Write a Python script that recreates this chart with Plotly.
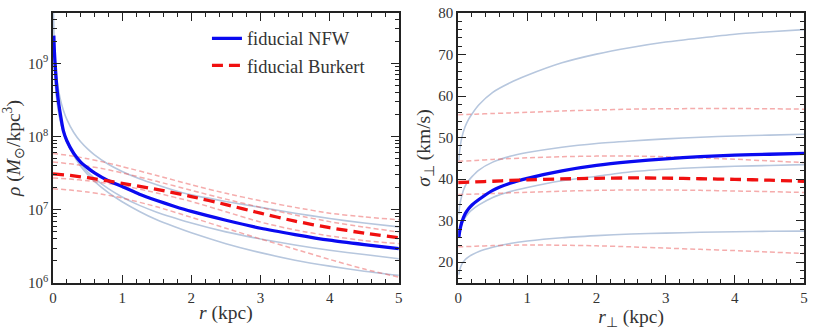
import plotly.graph_objects as go
from plotly.subplots import make_subplots

# ---------------- data ----------------
# left panel: density profiles rho(r) [M_sun/kpc^3]
r_nfw = [0.012, 0.02, 0.035, 0.05, 0.07, 0.1, 0.15, 0.2, 0.3, 0.4, 0.5, 0.6, 0.8,
         1.0, 1.25, 1.5, 1.75, 2.0, 2.5, 3.0, 3.5, 4.0, 4.5, 5.0]
rho_nfw_fid = [2.4e9, 1.45e9, 8.5e8, 5.4e8, 3.5e8, 2.2e8, 1.2e8, 8.8e7, 5.9e7, 4.5e7, 3.75e7,
               3.2e7, 2.5e7, 2.08e7, 1.63e7, 1.34e7, 1.12e7, 9.5e6, 7.2e6, 5.6e6, 4.6e6,
               3.85e6, 3.35e6, 2.95e6]
r_nfw_up = [0.007, 0.01, 0.02, 0.04, 0.07, 0.1, 0.15, 0.2, 0.3, 0.4, 0.5, 0.6, 0.8,
            1.0, 1.25, 1.5, 1.75, 2.0, 2.5, 3.0, 3.5, 4.0, 4.5, 5.0]
rho_nfw_up = [5.0e9, 3.5e9, 1.75e9, 8.7e8, 5.0e8, 3.45e8, 2.3e8, 1.72e8, 1.14e8, 8.5e7, 6.8e7,
              5.65e7, 4.2e7, 3.35e7, 2.66e7, 2.2e7, 1.85e7, 1.6e7, 1.3e7, 1.08e7, 9.0e6,
              7.6e6, 6.6e6, 5.85e6]
rho_nfw_lo1 = [1.45e9, 8.7e8, 5.0e8, 3.5e8, 2.5e8, 1.72e8, 1.14e8, 8.5e7, 5.6e7, 4.15e7, 3.3e7,
               2.7e7, 1.95e7, 1.5e7, 1.15e7, 9.3e6, 7.8e6, 6.6e6, 5.0e6, 4.0e6, 3.3e6,
               2.8e6, 2.45e6, 2.15e6]
rho_nfw_lo2 = [1.6e9, 9.5e8, 5.4e8, 3.75e8, 2.65e8, 1.8e8, 1.18e8, 8.6e7, 5.5e7, 3.95e7, 3.05e7,
               2.45e7, 1.72e7, 1.29e7, 9.5e6, 7.3e6, 5.9e6, 4.85e6, 3.45e6, 2.6e6, 2.05e6,
               1.7e6, 1.45e6, 1.27e6]

r_bur = [0, 0.25, 0.5, 0.75, 1, 1.5, 2, 2.5, 3, 3.5, 4, 4.5, 5]
rho_bur_fid = [3.1e7, 2.95e7, 2.75e7, 2.52e7, 2.3e7, 1.9e7, 1.52e7, 1.18e7, 9.0e6, 7.0e6,
               5.7e6, 4.8e6, 4.15e6]
rho_bur_a = [5.9e7, 5.5e7, 5.0e7, 4.45e7, 3.9e7, 2.95e7, 2.2e7, 1.68e7, 1.33e7, 1.08e7,
             9.0e6, 8.0e6, 7.3e6]
rho_bur_b = [4.5e7, 4.25e7, 3.95e7, 3.6e7, 3.2e7, 2.45e7, 1.85e7, 1.4e7, 1.08e7, 8.5e6,
             6.9e6, 5.8e6, 4.97e6]
rho_bur_c = [2.73e7, 2.63e7, 2.5e7, 2.33e7, 2.15e7, 1.7e7, 1.3e7, 9.4e6, 6.8e6, 5.3e6,
             4.4e6, 3.8e6, 3.45e6]
rho_bur_d = [1.94e7, 1.86e7, 1.75e7, 1.61e7, 1.45e7, 1.1e7, 7.9e6, 5.6e6, 4.0e6, 2.9e6,
             2.1e6, 1.55e6, 1.2e6]

# right panel: projected velocity dispersion sigma_perp(r_perp) [km/s]
r_sig = [0.01, 0.02, 0.05, 0.1, 0.15, 0.2, 0.3, 0.5, 0.75, 1.0, 1.5, 2.0, 2.5, 3.0, 3.5,
         4.0, 4.5, 5.0]
sig_nfw_fid = [26.0, 27.3, 29.5, 31.6, 32.9, 33.8, 35.1, 37.3, 39.0, 40.2, 42.0, 43.3, 44.2,
               44.9, 45.4, 45.8, 46.0, 46.2]
sig_nfw_1 = [44.5, 46.5, 49.8, 52.6, 54.4, 55.7, 57.9, 60.9, 63.2, 65.0, 68.0, 70.1, 71.7,
             73.0, 74.0, 74.9, 75.5, 76.0]
sig_nfw_2 = [31.5, 33.3, 35.9, 38.3, 39.6, 40.6, 42.2, 44.1, 45.5, 46.4, 47.7, 48.6, 49.2,
             49.7, 50.1, 50.4, 50.6, 50.8]
sig_nfw_3 = [25.8, 27.0, 29.0, 30.7, 31.8, 32.6, 33.8, 35.6, 37.0, 38.0, 39.6, 40.7, 41.8,
             42.4, 42.8, 43.1, 43.3, 43.5]
sig_nfw_4 = [17.0, 18.0, 19.4, 20.6, 21.3, 21.8, 22.6, 23.6, 24.5, 25.1, 25.9, 26.4, 26.8,
             27.0, 27.2, 27.35, 27.45, 27.5]

sig_bur_fid = [39.2, 39.35, 39.5, 39.7, 39.85, 40.05, 40.2, 40.3, 40.25, 40.1, 39.95, 39.75, 39.5]
sig_bur_1 = [55.5, 55.65, 55.8, 55.95, 56.1, 56.4, 56.65, 56.85, 56.95, 57.0, 57.0, 56.95, 56.85]
sig_bur_2 = [44.3, 44.5, 44.75, 44.95, 45.15, 45.4, 45.55, 45.55, 45.4, 45.1, 44.8, 44.4, 44.0]
sig_bur_3 = [36.3, 36.4, 36.55, 36.7, 36.85, 37.1, 37.3, 37.4, 37.4, 37.3, 37.15, 37.0, 36.8]
sig_bur_4 = [23.7, 23.85, 24.0, 24.1, 24.15, 24.1, 23.95, 23.7, 23.4, 23.1, 22.8, 22.45, 22.1]

left_ytickvals = [1e6, 1e7, 1e8, 1e9]
left_yticktext = ["10<sup>6</sup>", "10<sup>7</sup>", "10<sup>8</sup>", "10<sup>9</sup>"]
legend_names = ["fiducial NFW", "fiducial Burkert"]

# ---------------- styling ----------------
FONT = "Liberation Serif"
BLUE = "#0a0af0"
RED = "#f01010"
LBLUE = "#b7c7de"
LRED = "rgba(235,90,90,0.5)"
TICKFONT = dict(family=FONT, size=15, color="#333")
TITLEFONT = dict(family=FONT, size=19.5, color="#333")

fig = make_subplots(rows=1, cols=2, horizontal_spacing=0.079)


def add(x, y, col, color, width, dash=None, name=None, show=False):
    fig.add_trace(go.Scatter(
        x=x, y=y, mode="lines", name=name, showlegend=show,
        line=dict(color=color, width=width, dash=dash, shape="spline", smoothing=0.6),
        hoverinfo="skip"), row=1, col=col)


# left panel
add(r_nfw_up, rho_nfw_up, 1, LBLUE, 1.6)
for ys in (rho_nfw_lo1, rho_nfw_lo2):
    add(r_nfw, ys, 1, LBLUE, 1.6)
for ys in (rho_bur_a, rho_bur_b, rho_bur_c, rho_bur_d):
    add(r_bur, ys, 1, LRED, 1.5, dash="5px,3px")
add(r_nfw, rho_nfw_fid, 1, BLUE, 3.3, name=legend_names[0], show=True)
add(r_bur, rho_bur_fid, 1, RED, 3.3, dash="11px,6px", name=legend_names[1], show=True)

# right panel
for ys in (sig_nfw_1, sig_nfw_2, sig_nfw_3, sig_nfw_4):
    add(r_sig, ys, 2, LBLUE, 1.6)
for ys in (sig_bur_1, sig_bur_2, sig_bur_3, sig_bur_4):
    add(r_bur, ys, 2, LRED, 1.5, dash="5px,3px")
add(r_sig, sig_nfw_fid, 2, BLUE, 3.3)
add(r_bur, sig_bur_fid, 2, RED, 3.3, dash="11px,6px")

minor_common = dict(ticks="inside", ticklen=4, tickwidth=1, tickcolor="#222", showgrid=False)
fig.update_xaxes(showline=True, linecolor="#222", linewidth=1.6, mirror="allticks",
                 ticks="inside", ticklen=8, tickwidth=1, tickcolor="#222",
                 showgrid=False, zeroline=False, tickfont=TICKFONT)
fig.update_yaxes(showline=True, linecolor="#222", linewidth=1.6, mirror="allticks",
                 ticks="inside", ticklen=8, tickwidth=1, tickcolor="#222",
                 showgrid=False, zeroline=False, tickfont=TICKFONT)

fig.update_xaxes(range=[0, 5], dtick=1, minor=dict(dtick=0.2, **minor_common),
                 title=dict(text="<i>r</i> (kpc)", font=TITLEFONT, standoff=1),
                 row=1, col=1)
fig.update_xaxes(range=[0, 5], dtick=1, minor=dict(dtick=0.2, **minor_common),
                 title=dict(text="<i>r</i><sub>⊥</sub> (kpc)", font=TITLEFONT, standoff=1),
                 row=1, col=2)
fig.update_yaxes(type="log", range=[6, 9.69], tickmode="array",
                 tickvals=left_ytickvals, ticktext=left_yticktext,
                 minor=dict(dtick="D1", **minor_common),
                 title=dict(text="<i>ρ</i> (<i>M</i><sub>⊙</sub>/kpc<sup>3</sup>)",
                            font=TITLEFONT, standoff=3),
                 row=1, col=1)
fig.update_yaxes(range=[15, 80], dtick=10, minor=dict(dtick=2, **minor_common),
                 title=dict(text="<i>σ</i><sub>⊥</sub> (km/s)", font=TITLEFONT, standoff=3),
                 row=1, col=2)

fig.update_layout(
    width=814, height=330,
    margin=dict(l=53.3, r=10, t=12.5, b=47, autoexpand=False),
    paper_bgcolor="white", plot_bgcolor="white",
    font=dict(family=FONT, color="#333"),
    legend=dict(x=0.205, y=0.975, xanchor="left", yanchor="top",
                bgcolor="rgba(0,0,0,0)", borderwidth=0,
                font=dict(family=FONT, size=18.5, color="#333"),
                tracegroupgap=0),
)

fig.write_html("out.html", config={"displayModeBar": False},
               post_script="document.body.style.margin='0px';")
